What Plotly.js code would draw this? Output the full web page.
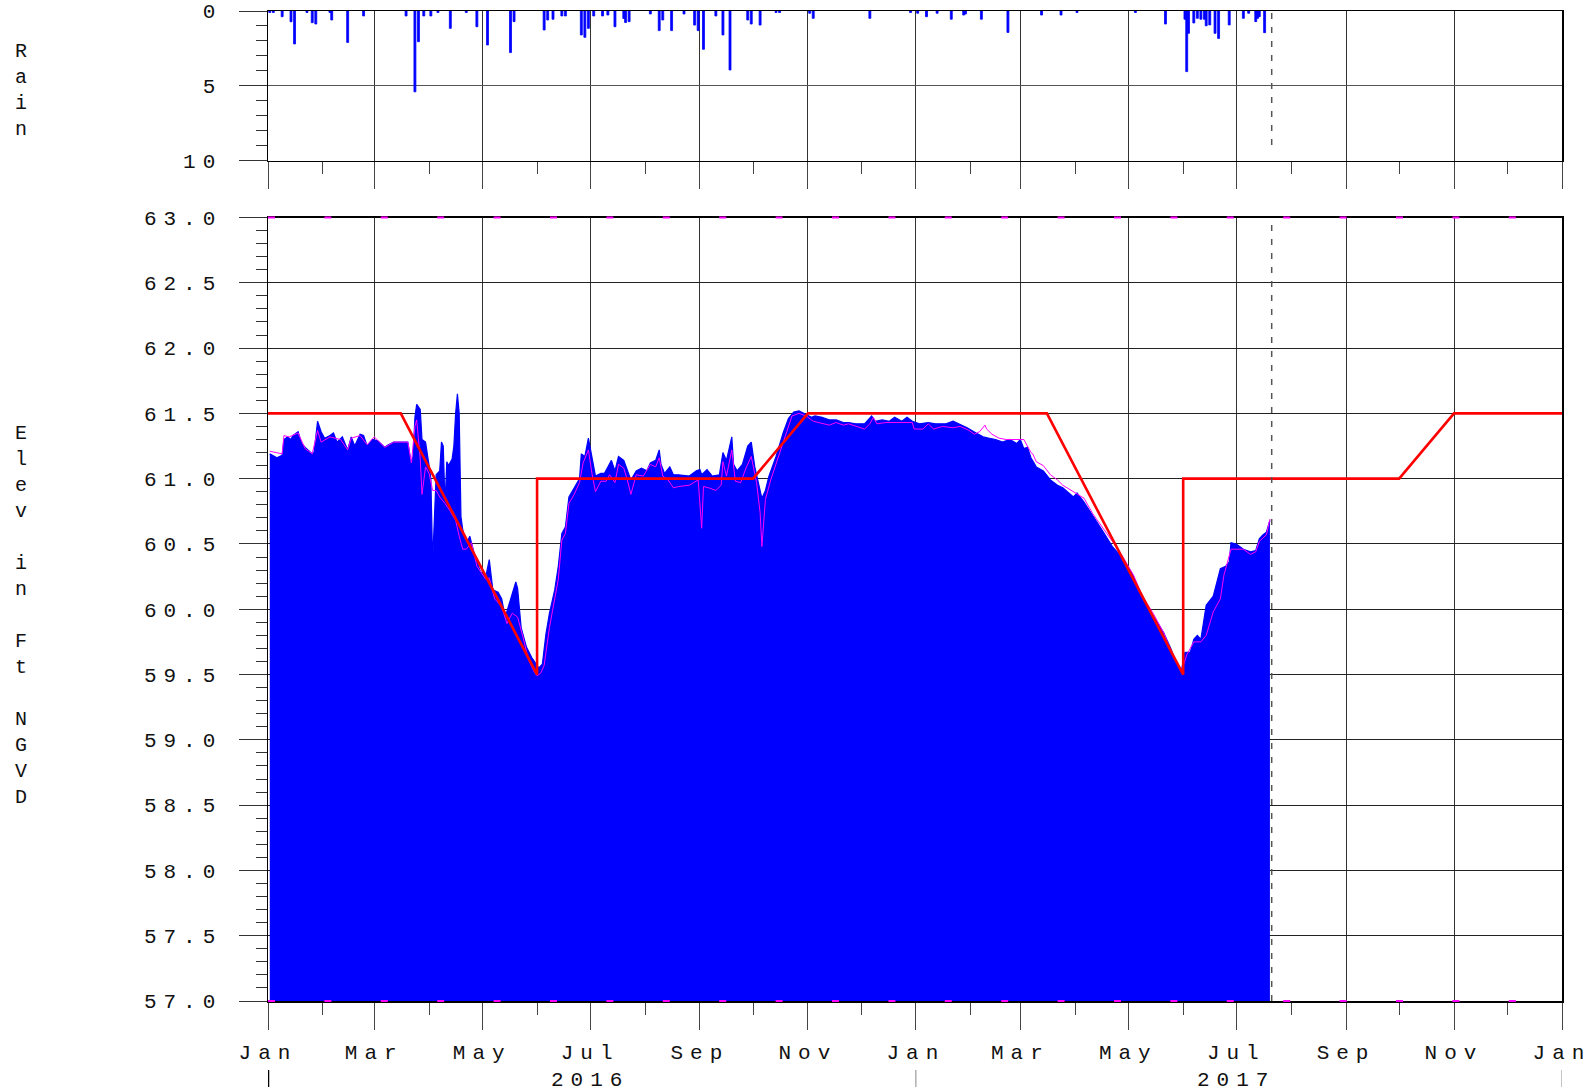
<!DOCTYPE html>
<html>
<head>
<meta charset="utf-8">
<script src="https://cdn.plot.ly/plotly-3.0.1.min.js"></script>
<style>html,body{margin:0;padding:0;background:#fff;}#chart{width:1591px;height:1092px;}</style>
</head>
<body>
<div id="chart"></div>
<script>
// ---- Daily lake stage (blue area, ft NGVD) ----
const stageDates = ['2016-01-02','2016-01-06','2016-01-09','2016-01-10','2016-01-12','2016-01-14','2016-01-15','2016-01-18','2016-01-20','2016-01-22','2016-01-26','2016-01-27','2016-01-29','2016-01-31','2016-02-02','2016-02-05','2016-02-07','2016-02-09','2016-02-12','2016-02-15','2016-02-17','2016-02-19','2016-02-22','2016-02-24','2016-02-26','2016-02-29','2016-03-03','2016-03-07','2016-03-09','2016-03-12','2016-03-20','2016-03-21','2016-03-22','2016-03-23','2016-03-24','2016-03-25','2016-03-27','2016-03-28','2016-03-30','2016-04-01','2016-04-02','2016-04-03','2016-04-04','2016-04-05','2016-04-07','2016-04-08','2016-04-09','2016-04-10','2016-04-11','2016-04-12','2016-04-14','2016-04-15','2016-04-16','2016-04-17','2016-04-18','2016-04-19','2016-04-20','2016-04-22','2016-04-24','2016-04-27','2016-04-30','2016-05-03','2016-05-05','2016-05-07','2016-05-10','2016-05-12','2016-05-14','2016-05-17','2016-05-20','2016-05-21','2016-05-23','2016-05-26','2016-05-29','2016-05-31','2016-06-02','2016-06-04','2016-06-06','2016-06-08','2016-06-11','2016-06-13','2016-06-15','2016-06-17','2016-06-19','2016-06-22','2016-06-25','2016-06-26','2016-06-28','2016-06-30','2016-07-02','2016-07-04','2016-07-07','2016-07-09','2016-07-11','2016-07-13','2016-07-15','2016-07-17','2016-07-20','2016-07-22','2016-07-24','2016-07-27','2016-07-30','2016-08-02','2016-08-04','2016-08-07','2016-08-09','2016-08-10','2016-08-12','2016-08-15','2016-08-17','2016-08-20','2016-08-26','2016-08-30','2016-09-01','2016-09-02','2016-09-05','2016-09-08','2016-09-12','2016-09-14','2016-09-16','2016-09-19','2016-09-20','2016-09-22','2016-09-25','2016-09-28','2016-09-30','2016-10-02','2016-10-04','2016-10-06','2016-10-08','2016-10-10','2016-10-14','2016-10-18','2016-10-21','2016-10-24','2016-10-27','2016-10-30','2016-11-03','2016-11-05','2016-11-09','2016-11-13','2016-11-17','2016-11-21','2016-11-24','2016-11-28','2016-12-03','2016-12-07','2016-12-09','2016-12-13','2016-12-17','2016-12-20','2016-12-24','2016-12-27','2016-12-30','2017-01-03','2017-01-08','2017-01-12','2017-01-18','2017-01-22','2017-01-25','2017-01-30','2017-02-04','2017-02-08','2017-02-11','2017-02-15','2017-02-19','2017-02-23','2017-02-27','2017-03-01','2017-03-03','2017-03-05','2017-03-07','2017-03-10','2017-03-14','2017-03-18','2017-03-22','2017-03-25','2017-03-31','2017-04-02','2017-04-06','2017-04-11','2017-04-17','2017-04-22','2017-04-28','2017-05-04','2017-05-09','2017-05-15','2017-05-21','2017-05-25','2017-05-28','2017-05-31','2017-06-02','2017-06-05','2017-06-07','2017-06-09','2017-06-11','2017-06-14','2017-06-18','2017-06-22','2017-06-25','2017-06-27','2017-06-28','2017-07-01','2017-07-05','2017-07-09','2017-07-12','2017-07-14','2017-07-16','2017-07-18','2017-07-20'];
const stageVals = [61.19,61.16,61.18,61.30,61.32,61.30,61.33,61.36,61.27,61.24,61.19,61.20,61.44,61.36,61.31,61.33,61.35,61.28,61.32,61.22,61.32,61.25,61.34,61.33,61.25,61.30,61.29,61.24,61.26,61.28,61.28,61.21,61.11,61.18,61.47,61.57,61.53,61.30,61.28,61.10,61.00,60.36,60.65,61.03,61.06,61.28,61.25,60.80,61.13,61.10,61.15,61.25,61.50,61.65,61.50,60.71,60.61,60.50,60.56,60.40,60.29,60.25,60.38,60.15,60.13,60.08,59.94,60.07,60.21,60.16,59.86,59.71,59.63,59.59,59.55,59.58,59.81,59.97,60.15,60.33,60.58,60.63,60.86,60.93,61.00,61.19,61.17,61.31,61.17,61.02,61.04,61.04,61.09,61.14,61.06,61.17,61.14,61.06,60.99,61.06,61.08,61.06,61.12,61.14,61.22,61.11,61.04,61.09,61.03,61.03,61.02,61.06,61.07,61.03,61.07,61.02,61.03,61.20,61.14,61.32,61.11,61.06,61.11,61.25,61.28,61.09,60.96,60.85,60.91,61.02,61.17,61.35,61.46,61.51,61.52,61.50,61.47,61.48,61.47,61.45,61.45,61.43,61.43,61.42,61.42,61.48,61.44,61.45,61.44,61.47,61.44,61.47,61.44,61.42,61.43,61.42,61.42,61.44,61.42,61.39,61.35,61.32,61.31,61.30,61.28,61.30,61.27,61.30,61.23,61.24,61.16,61.09,61.06,60.99,60.95,60.93,60.86,60.89,60.82,60.72,60.59,60.48,60.39,60.25,60.08,59.95,59.82,59.70,59.59,59.53,59.67,59.67,59.77,59.80,59.77,60.03,60.10,60.31,60.33,60.36,60.51,60.50,60.46,60.44,60.45,60.54,60.57,60.59,60.68];

// ---- Second stage series (magenta line) ----
const meanDates = ['2016-01-02','2016-01-09','2016-01-10','2016-01-13','2016-01-18','2016-01-22','2016-01-26','2016-01-29','2016-01-31','2016-02-05','2016-02-11','2016-02-15','2016-02-17','2016-02-22','2016-02-26','2016-03-01','2016-03-07','2016-03-12','2016-03-20','2016-03-22','2016-03-24','2016-03-25','2016-03-27','2016-03-28','2016-03-30','2016-04-01','2016-04-03','2016-04-05','2016-04-07','2016-04-10','2016-04-13','2016-04-16','2016-04-18','2016-04-20','2016-04-22','2016-04-25','2016-04-28','2016-05-03','2016-05-05','2016-05-08','2016-05-12','2016-05-15','2016-05-18','2016-05-21','2016-05-24','2016-05-27','2016-05-30','2016-06-01','2016-06-03','2016-06-05','2016-06-08','2016-06-11','2016-06-13','2016-06-15','2016-06-17','2016-06-19','2016-06-22','2016-06-25','2016-06-27','2016-06-30','2016-07-02','2016-07-04','2016-07-07','2016-07-10','2016-07-12','2016-07-15','2016-07-17','2016-07-20','2016-07-22','2016-07-24','2016-07-27','2016-07-31','2016-08-04','2016-08-07','2016-08-09','2016-08-11','2016-08-14','2016-08-17','2016-08-20','2016-08-26','2016-08-31','2016-09-02','2016-09-03','2016-09-06','2016-09-10','2016-09-13','2016-09-14','2016-09-16','2016-09-19','2016-09-21','2016-09-24','2016-09-27','2016-09-30','2016-10-03','2016-10-05','2016-10-06','2016-10-08','2016-10-11','2016-10-16','2016-10-20','2016-10-23','2016-10-27','2016-10-31','2016-11-04','2016-11-07','2016-11-13','2016-11-17','2016-11-21','2016-11-24','2016-11-28','2016-12-03','2016-12-06','2016-12-08','2016-12-10','2016-12-15','2016-12-21','2016-12-26','2016-12-30','2016-12-31','2017-01-05','2017-01-08','2017-01-11','2017-01-16','2017-01-22','2017-01-26','2017-01-31','2017-02-03','2017-02-06','2017-02-09','2017-02-10','2017-02-13','2017-02-17','2017-02-21','2017-02-25','2017-03-01','2017-03-03','2017-03-07','2017-03-08','2017-03-10','2017-03-14','2017-03-18','2017-03-22','2017-03-25','2017-03-31','2017-04-06','2017-04-11','2017-04-17','2017-04-22','2017-04-28','2017-05-04','2017-05-09','2017-05-15','2017-05-21','2017-05-26','2017-05-31','2017-06-03','2017-06-07','2017-06-11','2017-06-14','2017-06-18','2017-06-22','2017-06-24','2017-06-28','2017-07-01','2017-07-05','2017-07-09','2017-07-12','2017-07-14','2017-07-18','2017-07-20'];
const meanVals = [61.21,61.19,61.33,61.32,61.35,61.23,61.19,61.37,61.28,61.32,61.30,61.22,61.31,61.33,61.26,61.32,61.24,61.28,61.28,61.12,61.40,61.45,61.15,60.88,61.09,61.04,60.91,60.91,60.86,60.81,60.75,60.68,60.56,60.46,60.46,60.51,60.33,60.23,60.24,60.08,60.02,59.89,59.97,59.94,59.79,59.62,59.53,59.49,59.51,59.57,59.86,60.07,60.23,60.53,60.58,60.81,60.88,60.97,61.12,61.22,61.04,60.90,60.98,60.98,61.03,60.97,61.11,61.08,60.99,60.88,61.03,61.02,61.11,61.09,61.16,61.02,60.99,60.93,60.94,60.95,60.99,60.62,60.94,60.93,60.91,60.95,61.13,61.02,61.22,60.98,60.97,61.08,61.17,60.97,60.74,60.48,60.84,60.99,61.20,61.37,61.48,61.50,61.48,61.44,61.43,61.41,61.43,61.41,61.42,61.40,61.38,61.42,61.47,61.42,61.43,61.43,61.43,61.43,61.38,61.38,61.42,61.38,61.40,61.39,61.40,61.37,61.34,61.36,61.41,61.38,61.34,61.31,61.30,61.30,61.30,61.30,61.20,61.19,61.13,61.10,61.03,60.99,60.95,60.90,60.85,60.73,60.62,60.52,60.40,60.26,60.10,59.97,59.82,59.65,59.52,59.65,59.75,59.75,59.80,59.98,60.08,60.26,60.46,60.46,60.46,60.42,60.44,60.52,60.57,60.69];

// ---- Regulation schedule (red line) ----
const scheduleDates = ['2016-01-01','2016-03-16','2016-06-01','2016-06-01','2016-10-01','2016-11-01','2017-03-16','2017-06-01','2017-06-01','2017-10-01','2017-11-01','2018-01-01'];
const scheduleVals = [61.5,61.5,59.5,61.0,61.0,61.5,61.5,59.5,61.0,61.0,61.5,61.5];

// ---- Daily rainfall (inches) ----
const rainDates = ['2016-01-02','2016-01-04','2016-01-09','2016-01-14','2016-01-16','2016-01-23','2016-01-26','2016-01-28','2016-02-05','2016-02-06','2016-02-15','2016-02-24','2016-03-19','2016-03-24','2016-03-26','2016-03-29','2016-04-02','2016-04-06','2016-04-13','2016-04-22','2016-04-28','2016-05-04','2016-05-17','2016-05-19','2016-06-05','2016-06-07','2016-06-10','2016-06-15','2016-06-17','2016-06-26','2016-06-28','2016-06-30','2016-07-03','2016-07-08','2016-07-11','2016-07-15','2016-07-20','2016-07-21','2016-07-23','2016-08-04','2016-08-09','2016-08-11','2016-08-16','2016-08-23','2016-08-29','2016-08-31','2016-09-03','2016-09-10','2016-09-14','2016-09-18','2016-09-28','2016-09-30','2016-10-05','2016-10-14','2016-10-16','2016-11-02','2016-11-04','2016-12-06','2016-12-29','2017-01-02','2017-01-07','2017-01-13','2017-01-21','2017-01-28','2017-01-29','2017-02-07','2017-02-22','2017-03-13','2017-03-24','2017-04-02','2017-05-05','2017-05-22','2017-06-02','2017-06-03','2017-06-04','2017-06-07','2017-06-09','2017-06-11','2017-06-13','2017-06-14','2017-06-16','2017-06-19','2017-06-21','2017-06-27','2017-07-05','2017-07-08','2017-07-12','2017-07-13','2017-07-14','2017-07-17'];
const rainVals = [0.1,0.1,0.38,0.72,2.2,0.1,0.78,0.87,0.1,0.6,2.1,0.33,0.33,5.4,2.05,0.33,0.33,0.1,1.16,0.1,1.05,2.27,2.78,0.71,1.27,0.6,0.55,0.33,0.33,1.6,1.76,1.16,0.33,0.33,0.27,1.05,0.5,0.77,0.71,0.2,1.31,0.6,1.31,0.2,0.94,1.31,2.56,0.33,1.6,3.94,0.6,0.87,0.94,0.1,0.1,0.15,0.49,0.49,0.1,0.15,0.38,0.15,0.55,0.27,0.2,0.55,1.43,0.27,0.27,0.1,0.1,0.87,0.55,4.05,1.49,0.8,0.49,0.55,0.55,0.99,0.93,1.49,1.83,0.93,0.49,0.15,0.71,0.49,0.38,1.45];

// ---- Axis ticks ----
const monthTicks = ['2016-01-01','2016-03-01','2016-05-01','2016-07-01','2016-09-01','2016-11-01','2017-01-01','2017-03-01','2017-05-01','2017-07-01','2017-09-01','2017-11-01','2018-01-01'];
const monthLabels = ['Jan','Mar','May','Jul','Sep','Nov','Jan','Mar','May','Jul','Sep','Nov','Jan'];
const yearLabels = ['2016','2017'];
const yearCenters = ['2016-07-01','2017-07-01'];
const yearBreaks = ['2016-01-01','2017-01-01','2018-01-01'];
const elevTicks = [57,57.5,58,58.5,59,59.5,60,60.5,61,61.5,62,62.5,63];
const elevLabels = ['57.0','57.5','58.0','58.5','59.0','59.5','60.0','60.5','61.0','61.5','62.0','62.5','63.0'];
const rainTicks = [0,5,10];
const rainLabels = ['0','5','10'];
const lastDataDate = '2017-07-21';

const FONT = 'Liberation Mono, Courier New, monospace';
const tickFont = {family: FONT, size: 21, color: '#111'};
const spaced = s => '<span style="letter-spacing:7px">' + s + '</span>';
const DAY = 86400000;

const traces = [
  {x: rainDates, y: rainVals, type: 'bar', xaxis: 'x2', yaxis: 'y2',
   marker: {color: '#0000ff', line: {color: '#0000ff', width: 0.8}}, width: DAY * 1.1, hoverinfo: 'x+y'},
  {x: stageDates, y: stageVals, type: 'scatter', mode: 'lines', xaxis: 'x', yaxis: 'y',
   fill: 'tozeroy', fillcolor: '#0000ff', line: {color: '#0000ff', width: 1.2}},
  {x: meanDates, y: meanVals, type: 'scatter', mode: 'lines', xaxis: 'x', yaxis: 'y',
   line: {color: '#ff00ff', width: 1}},
  {x: scheduleDates, y: scheduleVals, type: 'scatter', mode: 'lines', xaxis: 'x', yaxis: 'y',
   line: {color: '#ff0000', width: 2.6}}
];

const xCommon = {
  type: 'date', range: ['2016-01-01', '2018-01-01'],
  tickmode: 'array', tickvals: monthTicks, ticktext: monthLabels.map(spaced),
  ticks: 'outside', ticklen: 27, tickwidth: 1, tickcolor: '#444',
  minor: {dtick: 'M1', tick0: '2016-01-01', ticks: 'outside', ticklen: 12, tickwidth: 1, tickcolor: '#444', showgrid: false},
  showgrid: true, gridcolor: '#333', gridwidth: 1,
  showline: true, linecolor: '#000', linewidth: 1.5, mirror: true,
  zeroline: false, tickfont: tickFont, ticklabeloverflow: 'allow'
};

const annotations = [
  {xref: 'paper', yref: 'paper', x: -0.1909, y: 0.9197, xanchor: 'center', yanchor: 'middle', showarrow: false,
   text: 'R<br>a<br>i<br>n', font: {family: FONT, size: 20, color: '#111'}},
  {xref: 'paper', yref: 'paper', x: -0.1909, y: 0.3894, xanchor: 'center', yanchor: 'middle', showarrow: false,
   text: 'E<br>l<br>e<br>v<br>\u00a0<br>i<br>n<br>\u00a0<br>F<br>t<br>\u00a0<br>N<br>G<br>V<br>D', font: {family: FONT, size: 20, color: '#111'}}
];
yearLabels.forEach((t, i) => annotations.push({xref: 'x', yref: 'paper', x: yearCenters[i], y: -0.0805,
  xanchor: 'center', yanchor: 'middle', showarrow: false, text: spaced(t), font: tickFont}));

const shapes = [];
yearBreaks.forEach((d, i) => shapes.push({type: 'line', xref: 'x', yref: 'paper', x0: d, x1: d, y0: -0.0697, y1: -0.0869,
  line: {color: i === 0 ? '#000' : '#888', width: i === 0 ? 2.5 : 1}}));
// end-of-record dashed marker
shapes.push({type: 'line', xref: 'x', yref: 'paper', x0: lastDataDate, x1: lastDataDate, y0: 0.8646, y1: 1,
  line: {color: '#555', width: 1.5, dash: '6px,8px'}, layer: 'above'});
shapes.push({type: 'line', xref: 'x', yref: 'paper', x0: lastDataDate, x1: lastDataDate, y0: 0, y1: 0.7914,
  line: {color: '#555', width: 1.5, dash: '6px,8px'}, layer: 'above'});
// magenta dashes on the frame edges
[0, 0.7914].forEach(yy => shapes.push({type: 'line', xref: 'x', yref: 'paper', x0: '2016-01-01', x1: '2018-01-01', y0: yy, y1: yy,
  line: {color: '#ff00ff', width: 2, dash: '7px,49.4px'}, layer: 'above'}));

const layout = {
  width: 1591, height: 1092,
  margin: {l: 268, r: 29, t: 11, b: 91},
  paper_bgcolor: '#fff', plot_bgcolor: '#fff',
  showlegend: false, bargap: 0,
  font: {family: FONT, color: '#111'},
  xaxis: Object.assign({}, xCommon, {anchor: 'y', ticklabelstandoff: 4}),
  xaxis2: Object.assign({}, xCommon, {anchor: 'y2', matches: 'x', showticklabels: false}),
  yaxis: {domain: [0, 0.7914], range: [57, 63], tickmode: 'array', tickvals: elevTicks, ticktext: elevLabels.map(spaced),
    ticks: 'outside', ticklen: 28, tickwidth: 1, tickcolor: '#333',
    minor: {dtick: 0.1, ticks: 'outside', ticklen: 11, tickwidth: 1, tickcolor: '#333', showgrid: false},
    showgrid: true, gridcolor: '#222', gridwidth: 1, showline: true, linecolor: '#000', linewidth: 1.5, mirror: true,
    zeroline: false, tickfont: tickFont, ticklabelstandoff: 12},
  yaxis2: {domain: [0.8488, 1], range: [10, 0], tickmode: 'array', tickvals: rainTicks, ticktext: rainLabels.map(spaced),
    ticks: 'outside', ticklen: 28, tickwidth: 1, tickcolor: '#333',
    minor: {dtick: 1, ticks: 'outside', ticklen: 11, tickwidth: 1, tickcolor: '#333', showgrid: false},
    showgrid: true, gridcolor: '#555', gridwidth: 1, showline: true, linecolor: '#000', linewidth: 1.5, mirror: true,
    zeroline: false, tickfont: tickFont, ticklabelstandoff: 12},
  annotations: annotations,
  shapes: shapes
};

Plotly.newPlot('chart', traces, layout, {staticPlot: true, displayModeBar: false});
</script>
</body>
</html>
